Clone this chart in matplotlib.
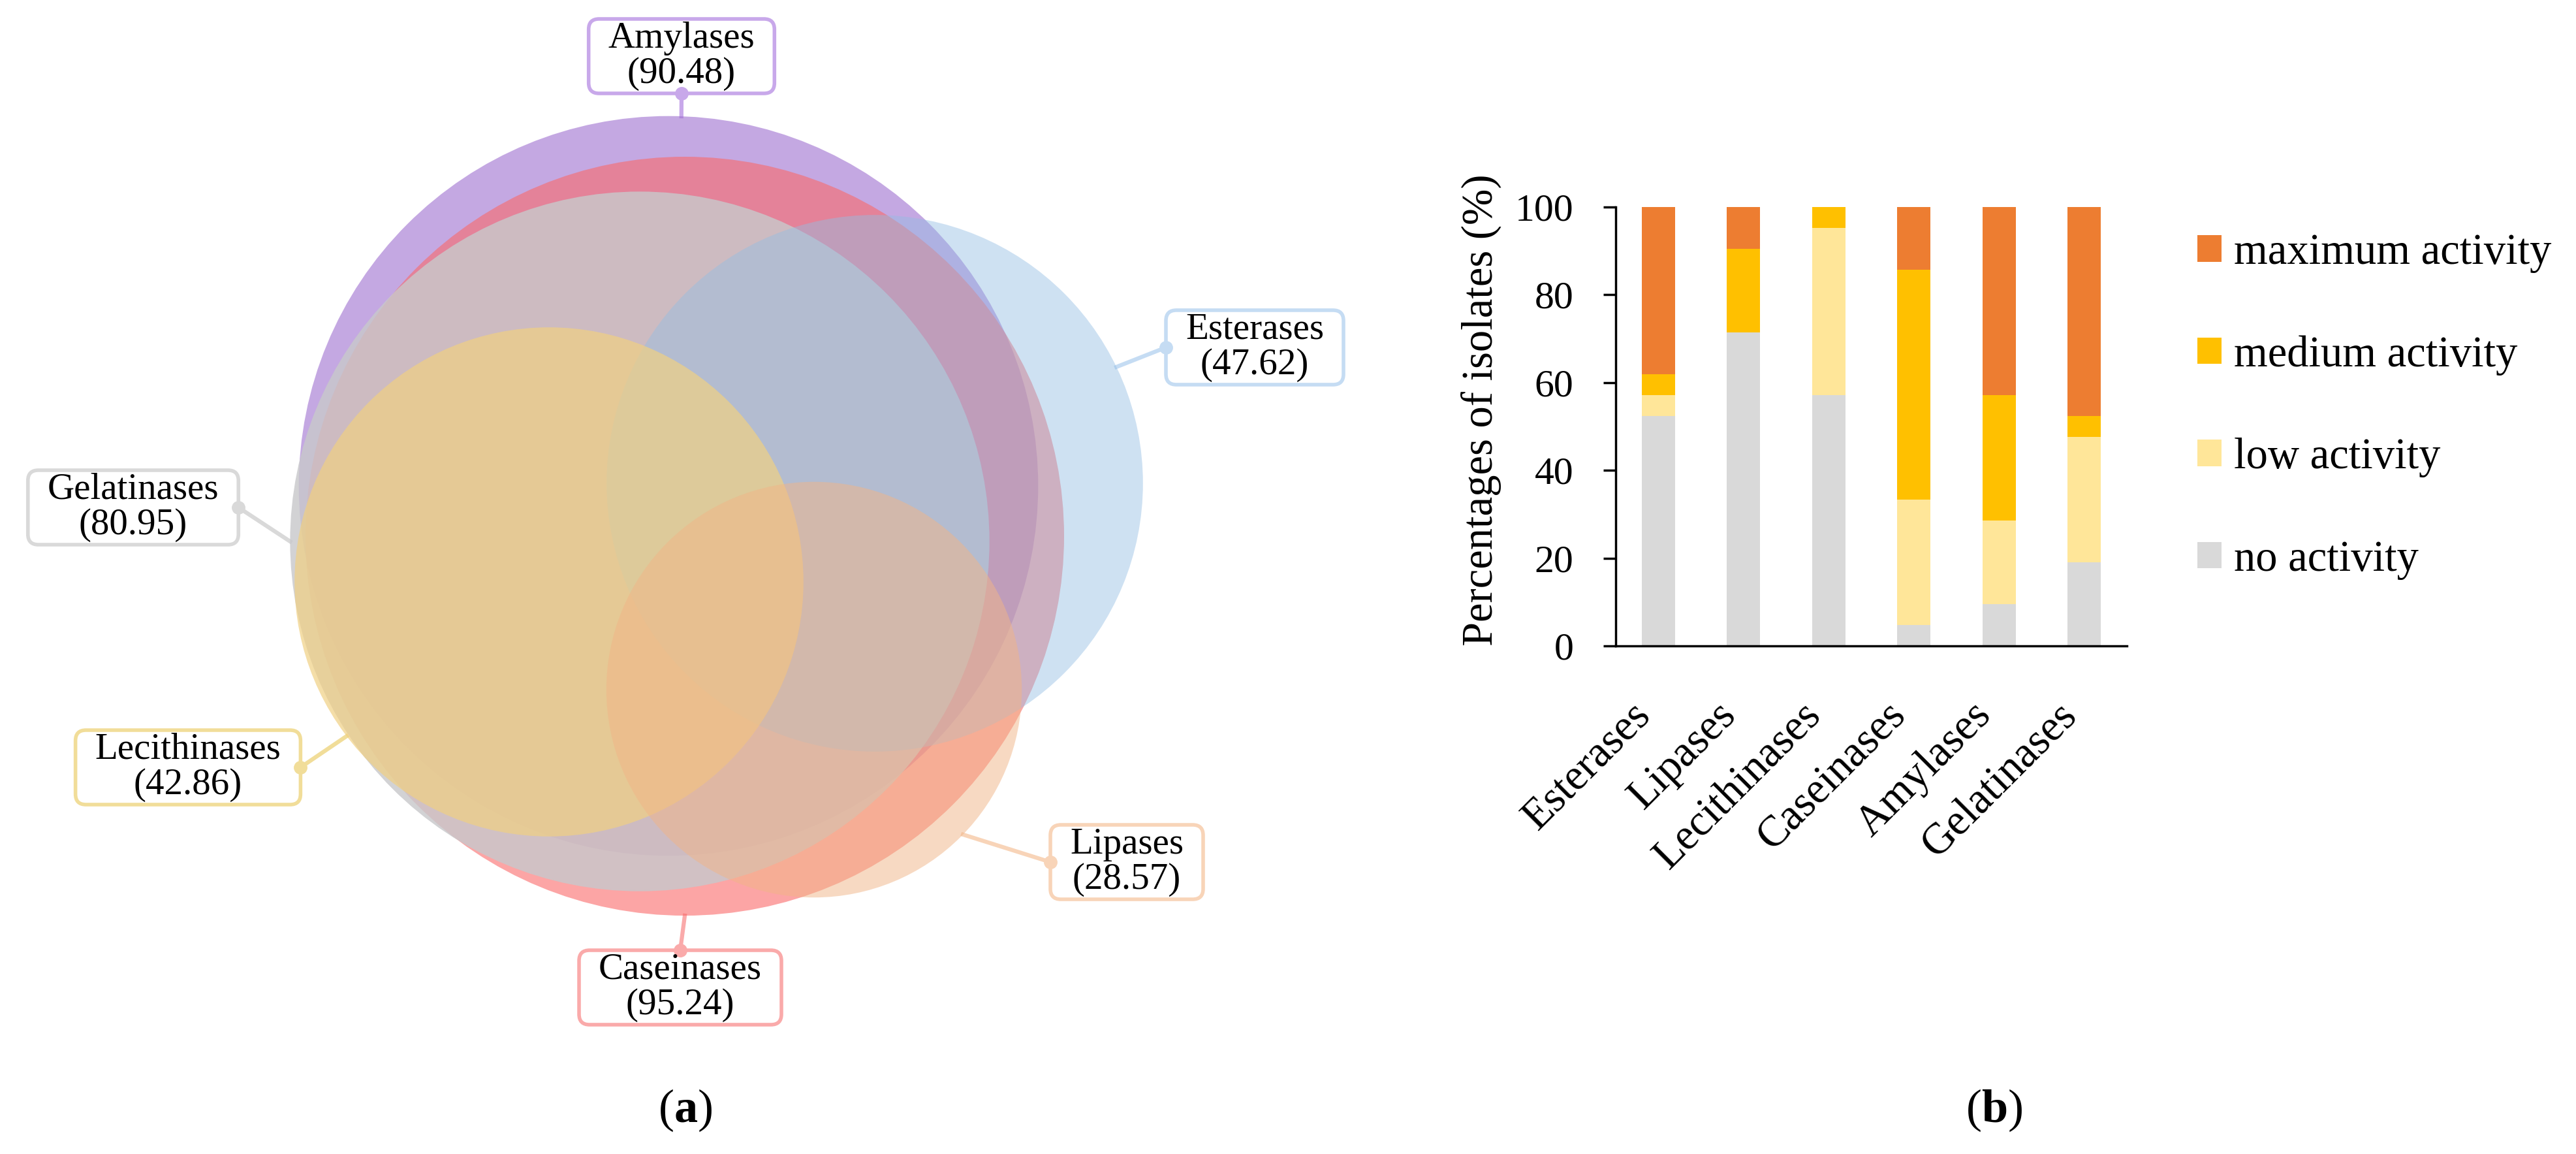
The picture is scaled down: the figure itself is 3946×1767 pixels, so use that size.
import numpy as np
import matplotlib.pyplot as plt
from matplotlib.patches import Circle, FancyBboxPatch
import matplotlib.transforms as mtransforms

plt.rcParams['font.family'] = ['Liberation Serif', 'DejaVu Serif']
plt.rcParams['mathtext.fontset'] = 'custom'
plt.rcParams['mathtext.rm'] = 'Liberation Serif'
plt.rcParams['mathtext.bf'] = 'Liberation Serif:bold'

# (a) percentage of isolates with activity
venn_names = ['Amylases', 'Caseinases', 'Gelatinases', 'Esterases', 'Lecithinases', 'Lipases']
venn_pct = [90.48, 95.24, 80.95, 47.62, 42.86, 28.57]

# (b) distribution of activity levels (%)
enzymes = ['Esterases', 'Lipases', 'Lecithinases', 'Caseinases', 'Amylases', 'Gelatinases']
no_act = [52.38, 71.43, 57.14, 4.76, 9.52, 19.05]
low_act = [4.76, 0, 38.10, 28.57, 19.05, 28.57]
med_act = [4.76, 19.05, 4.76, 52.38, 28.57, 4.76]
max_act = [38.10, 9.52, 0, 14.29, 42.86, 47.62]
levels = ['no activity', 'low activity', 'medium activity', 'maximum activity']

W, H = 3946, 1767
fig = plt.figure(figsize=(W / 100, H / 100), dpi=100)

# ---- venn, drawn in pixel coordinates ----
ax_v = fig.add_axes([0, 0, 1, 1])
ax_v.set_xlim(0, W)
ax_v.set_ylim(H, 0)
ax_v.axis('off')

centers = [(1024, 744), (1049, 821), (980, 829), (1340, 740), (841, 891), (1247, 1056)]
r_scale = 581 / np.sqrt(max(venn_pct))   # area proportional to percentage
face = ['#9E6ECF', '#FA6969', '#C8C8CB', '#94BEE4', '#F0D083', '#F1B587']
alphas = [0.6, 0.6, 0.82, 0.45, 0.7, 0.5]
edge = ['#C8A8EA', '#FAAAAA', '#D9D9D9', '#C5DCF3', '#F1DD99', '#F8D4B8']

label_pos = [(1044, 86), (1042, 1512), (204, 777), (1922, 532), (288, 1175), (1726, 1320)]
dot_side = ['bottom', 'top', 'right', 'left', 'right', 'left']
anchor_deg = [88, -90, 180, 25.7, -142.7, -44.2]

for i, name in enumerate(venn_names):
    r = r_scale * np.sqrt(venn_pct[i])
    ax_v.add_patch(Circle(centers[i], r, facecolor=face[i], alpha=alphas[i],
                          edgecolor='none', zorder=2 + i * 0.1))

fig.canvas.draw()
rend = fig.canvas.get_renderer()
for i, name in enumerate(venn_names):
    cx, cy = label_pos[i]
    t = ax_v.text(cx, cy, f'{name}\n({venn_pct[i]:.2f})', ha='center', va='center',
                  fontsize=41, linespacing=1.05, zorder=6)
    bw = t.get_window_extent(rend).width + 60
    bh = 114
    ax_v.add_patch(FancyBboxPatch((cx - bw / 2, cy - bh / 2), bw, bh,
                                  boxstyle='round,pad=0,rounding_size=16',
                                  facecolor='white', edgecolor=edge[i], lw=4, zorder=4))
    if dot_side[i] == 'bottom':
        d = (cx, cy + bh / 2)
    elif dot_side[i] == 'top':
        d = (cx, cy - bh / 2)
    elif dot_side[i] == 'right':
        d = (cx + bw / 2, cy)
    else:
        d = (cx - bw / 2, cy)
    r = r_scale * np.sqrt(venn_pct[i])
    a = np.radians(anchor_deg[i])
    ex = centers[i][0] + r * np.cos(a)
    ey = centers[i][1] - r * np.sin(a)
    ax_v.plot([d[0], ex], [d[1], ey], color=edge[i], lw=4.5, zorder=1)
    ax_v.plot([d[0]], [d[1]], 'o', color=edge[i], ms=14, zorder=5)

# ---- stacked bars ----
ax_b = fig.add_axes([2475 / W, 1 - 989 / H, (3258 - 2475) / W, (989 - 317) / H])
x = np.arange(len(enzymes))
colors = ['#D9D9D9', '#FFE699', '#FFC000', '#ED7D31']
bottom = np.zeros(len(enzymes))
bars = []
for vals, col, lab in zip([no_act, low_act, med_act, max_act], colors, levels):
    b = ax_b.bar(x, vals, 0.39, bottom=bottom, color=col, label=lab, zorder=2)
    bars.append(b)
    bottom += np.array(vals)

ax_b.set_xlim(-0.5, 5.5)
ax_b.set_ylim(0, 100)
ax_b.set_yticks(range(0, 101, 20))
ax_b.set_xticks(x)
ax_b.set_xticklabels(enzymes, rotation=45, ha='right', fontsize=48)
off = mtransforms.ScaledTranslation(11 / 100, 0, fig.dpi_scale_trans)
for lbl in ax_b.get_xticklabels():
    lbl.set_transform(lbl.get_transform() + off)
for s in ['top', 'right']:
    ax_b.spines[s].set_visible(False)
for s in ['left', 'bottom']:
    ax_b.spines[s].set_linewidth(2.5)
ax_b.tick_params(axis='y', direction='out', length=13.7, width=2.5, pad=33, labelsize=43)
ax_b.tick_params(axis='x', length=0, pad=54)
ax_b.set_ylabel('Percentages of isolates (%)', fontsize=48)
ax_b.yaxis.set_label_coords(-0.2235, 0.537)

fig.legend(bars[::-1], levels[::-1], loc='upper left',
           bbox_to_anchor=(3366 / W, 1 - 357 / H), frameon=False, fontsize=48,
           borderpad=0, borderaxespad=0, handlelength=0.555, handleheight=0.555,
           handletextpad=0.29, labelspacing=1.43)

fig.text(1050 / W, 1 - 1700 / H, r'($\mathbf{a}$)', ha='center', va='center', fontsize=52)
fig.text(3055 / W, 1 - 1700 / H, r'($\mathbf{b}$)', ha='center', va='center', fontsize=52)

fig.savefig('out.png', dpi=100)
